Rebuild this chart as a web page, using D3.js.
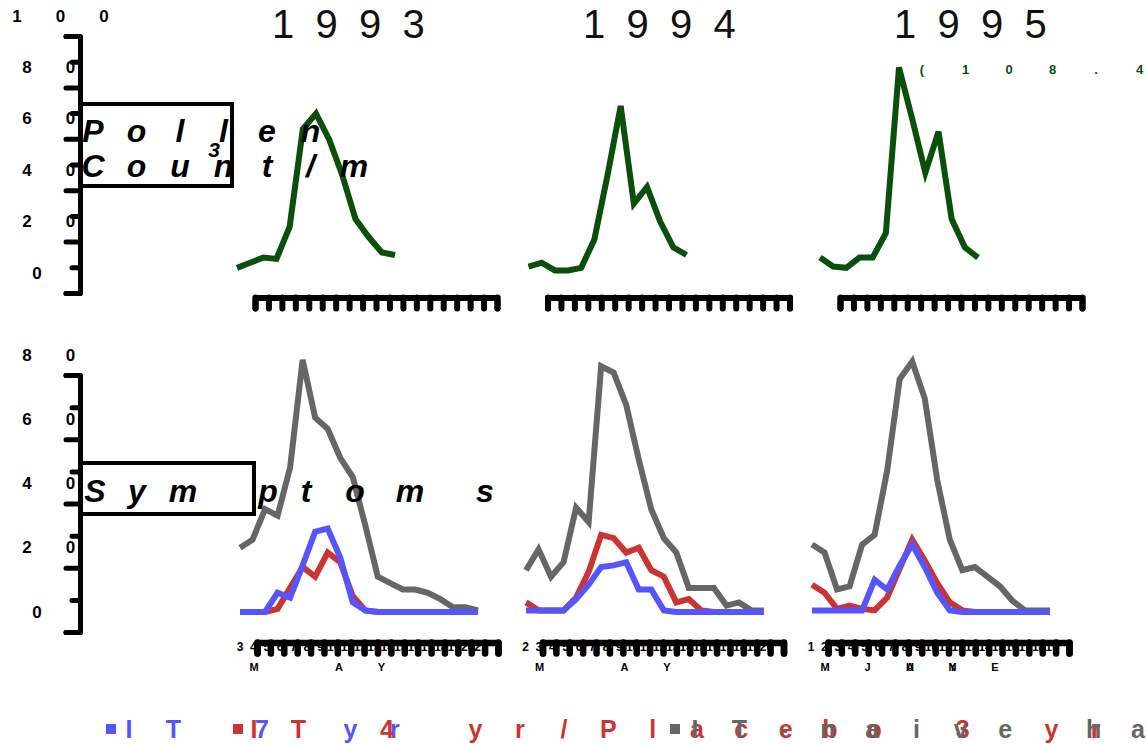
<!DOCTYPE html>
<html>
<head>
<meta charset="utf-8">
<script src="https://cdn.jsdelivr.net/npm/d3@7"></script>
<style>
  body { margin: 0; background: #fff; }
  svg { display: block; font-family: "Liberation Sans", Arial, sans-serif; }
  text { white-space: pre; }
</style>
</head>
<body>
<div id="chart"></div>
<script>
// Data
const years = ["1993", "1994", "1995"];
const pollen1993 = [2, 4, 6, 5.5, 18, 56, 62, 52, 38, 21, 14, 8, 7];
const pollen1994 = [2.5, 4, 1, 1, 2, 13, 38, 65, 27, 33.5, 20, 10, 7];
const pollen1995 = [6, 2.5, 2, 6, 6, 15.5, 80, 60, 39, 55, 21, 10, 6];
const naive1993 = [20, 22.5, 32, 30, 45, 78.5, 60.5, 57, 48, 42, 27, 11, 9, 7, 7, 6, 4, 1.5, 1.5, 0.5];
const naive1994 = [13, 19.5, 11, 15.5, 32.5, 28, 76.5, 74.5, 64.5, 47.5, 32, 23, 18.5, 7.5, 7.5, 7.5, 2, 3, 0.5, 0.5];
const naive1995 = [21, 18.5, 7, 8, 21, 24, 44, 72.5, 78, 66.5, 41, 22.5, 13, 14, 11, 8, 3.5, 0.5, 0.5, 0.5];
const it4_1993 = [0, 0, 0, 1, 7.5, 14, 11, 18.5, 15.5, 5, 0.5, 0, 0, 0, 0, 0, 0, 0, 0, 0];
const it4_1994 = [3, 0.5, 0.5, 0.5, 4.5, 12.5, 24, 23, 18.5, 20, 13, 11, 3, 4, 0.5, 0, 0, 0, 0, 0];
const it4_1995 = [8.5, 6, 1, 2, 1, 0.5, 4.5, 13.5, 22.5, 16, 9, 3, 0.5, 0, 0, 0, 0, 0, 0, 0];
const it7_1993 = [0, 0, 0, 6, 4.5, 14.5, 25, 26, 17, 3, 0.5, 0, 0, 0, 0, 0, 0, 0, 0, 0];
const it7_1994 = [0.5, 0.5, 0.5, 0.5, 4, 8.5, 14, 14.5, 15.5, 7, 7, 0.5, 0, 0, 0, 0, 0, 0, 0, 0];
const it7_1995 = [0.5, 0.5, 0.5, 0.5, 0.5, 10, 7, 14.5, 21, 14, 6, 0.5, 0, 0, 0, 0, 0, 0, 0, 0];
const pollenTicks = [0, 20, 40, 60, 80, 100];
const symptomTicks = [0, 20, 40, 60, 80];
const firstDays = [3, 2, 1];
const legendLabels = ["IT 7 yr", "IT 4 yr/Placebo 3 yr", "IT-naive hay fever"];
const peakNote = "(108.4)";

const colors = { pollen: "#0a500a", naive: "#666666", it4: "#cc3333", it7: "#5555ff" };

const width = 1147, height = 744;
const pitch = 43.5;     // every glyph sits on this spacing
const axisShift = 20;   // axes drawn lower than the marks

const svg = d3.select("#chart").append("svg")
    .attr("width", width)
    .attr("height", height);

// one glyph per x position
function spaced(g, str, xs, y) {
    return g.append("text")
        .attr("x", xs.join(" "))
        .attr("y", y)
        .attr("text-anchor", "middle")
        .text(str);
}
const grid = (str, x0, step = pitch) => Array.from(str, (_, i) => x0 + i * step);

const yP = d3.scaleLinear([0, 100], [273, 16]);
const yS = d3.scaleLinear([0, 80], [612, 355]);

function thick(g, w = 5) {
    g.selectAll("path, line")
        .attr("stroke", "#000")
        .attr("stroke-width", w)
        .attr("stroke-linecap", "round")
        .attr("stroke-linejoin", "round")
        .attr("fill", "none");
}

// Y axes
function yAxis(scale, values) {
    values.forEach(v => {
        const s = String(v);
        spaced(svg, s, grid(s, 47 - 10 * s.length), scale(v))
            .attr("dominant-baseline", "central")
            .style("font-size", "17px")
            .style("font-weight", "bold");
    });
    const g = svg.append("g").attr("transform", `translate(80,${axisShift})`);
    g.call(d3.axisLeft(scale).tickValues(values).tickSize(14).tickFormat(""));
    const mids = d3.pairs(values).map(([a, b]) => (a + b) / 2);
    g.append("g")
        .call(d3.axisLeft(scale).tickValues(mids).tickSize(8).tickFormat(""))
        .select(".domain").remove();
    thick(g);
}
yAxis(yP, pollenTicks);
yAxis(yS, symptomTicks);

// Year titles
years.forEach((yr, i) => {
    spaced(svg, yr, grid(yr, 283 + i * 311), 38)
        .style("font-size", "40px")
        .attr("fill", "#111");
});

// Pollen panels
const pollenData = [pollen1993, pollen1994, pollen1995];
pollenData.forEach((vals, i) => {
    const x0 = 237 + i * 291.5;
    const x = d3.scaleLinear([0, vals.length - 1], [x0, x0 + 158]);
    svg.append("path")
        .datum(vals)
        .attr("fill", "none")
        .attr("stroke", colors.pollen)
        .attr("stroke-width", 6)
        .attr("d", d3.line().x((d, j) => x(j)).y(d => yP(d)));

    const a0 = 255 + i * 292.5;
    const ax = d3.scaleLinear([0, 18], [a0, a0 + 242]);
    const g = svg.append("g").attr("transform", "translate(0,297.5)");
    g.call(d3.axisBottom(ax).tickValues(d3.range(19)).tickSize(11).tickFormat(""));
    thick(g, 6);
});

// peak note for 1995
spaced(svg, peakNote, grid(peakNote, 922), 74)
    .attr("fill", colors.pollen)
    .style("font-size", "13px")
    .style("font-weight", "bold");

// Symptom panels
const symptomData = [
    { vals: [naive1993, naive1994, naive1995], color: colors.naive },
    { vals: [it4_1993, it4_1994, it4_1995], color: colors.it4 },
    { vals: [it7_1993, it7_1994, it7_1995], color: colors.it7 }
];
years.forEach((yr, i) => {
    const x0 = 240 + i * 286;
    const x = d3.scaleLinear([0, 19], [x0, x0 + 238]);
    symptomData.forEach(s => {
        svg.append("path")
            .datum(s.vals[i])
            .attr("fill", "none")
            .attr("stroke", s.color)
            .attr("stroke-width", 6)
            .attr("d", d3.line().x((d, j) => x(j)).y(d => yS(d)));
    });

    const a0 = 257 + i * 285.5;
    const ax = d3.scaleLinear([0, 18], [a0, a0 + 241]);
    const days = d3.range(19);

    // day labels sit under the tick marks
    svg.append("g")
        .selectAll("text")
        .data(days)
        .join("text")
        .attr("x", d => ax(d) - 17)
        .attr("y", 647)
        .attr("dy", "0.35em")
        .attr("text-anchor", "middle")
        .style("font-size", "12px")
        .style("font-weight", "bold")
        .text(d => firstDays[i] + d);

    const g = svg.append("g").attr("transform", "translate(0,642.5)");
    g.call(d3.axisBottom(ax).tickValues(days).tickSize(11).tickFormat(""));
    thick(g, 6.5);

    // month names, on the same glyph grid
    const m0 = a0 - 3;
    const months = i === 2 ? [["MAY", [0, 2, 3]], ["JUNE", [1, 2, 3, 4]]] : [["MAY", [0, 2, 3]]];
    months.forEach(([name, slots]) => {
        spaced(svg, name, slots.map(k => m0 + k * 42.5), 671)
            .style("font-size", "11px")
            .style("font-weight", "bold");
    });
});

// Boxed row labels
const labelStyle = t => t.style("font-size", "32px").style("font-weight", "bold").style("font-style", "italic");
svg.append("rect")
    .attr("x", 80).attr("y", 104).attr("width", 152).attr("height", 82)
    .attr("fill", "none").attr("stroke", "#000").attr("stroke-width", 4);
labelStyle(spaced(svg, "Pollen", grid("Pollen", 93), 142));
labelStyle(spaced(svg, "Count/m", grid("Count/m", 93), 177));
svg.append("text")
    .attr("x", 214).attr("y", 157)
    .attr("text-anchor", "middle")
    .style("font-size", "21px").style("font-weight", "bold").style("font-style", "italic")
    .text("3");

svg.append("rect")
    .attr("x", 80).attr("y", 463).attr("width", 174).attr("height", 51)
    .attr("fill", "none").attr("stroke", "#000").attr("stroke-width", 4);
labelStyle(spaced(svg, "Symptoms", [95, 137, 183, 268, 306, 355, 410, 485], 502));

// Legend
const legendColors = [colors.it7, colors.it4, colors.naive];
const legendX = [111, 238, 675];
const legendText = [129, 254, 695];
legendLabels.forEach((lab, i) => {
    svg.append("rect")
        .attr("x", legendX[i] - 5).attr("y", 724)
        .attr("width", 10).attr("height", 10)
        .attr("fill", legendColors[i]);
    spaced(svg, lab, grid(lab, legendText[i], 44.3), 738)
        .attr("fill", legendColors[i])
        .style("font-size", "25px")
        .style("font-weight", "bold");
});
</script>
</body>
</html>
